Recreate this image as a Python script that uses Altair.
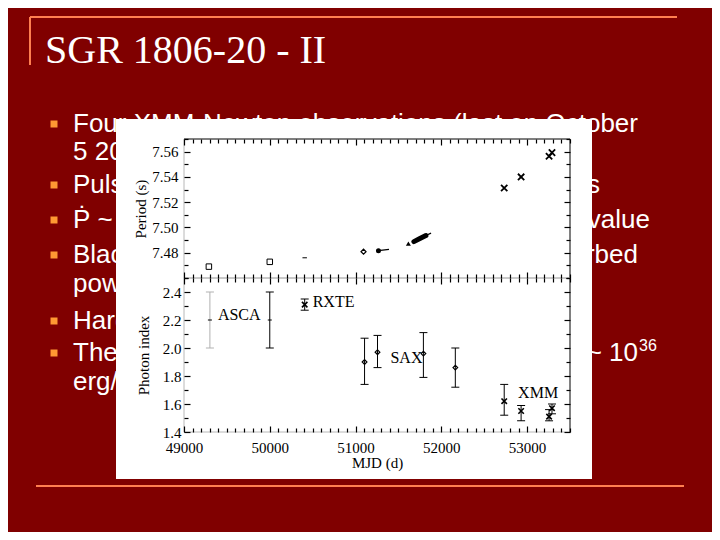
import altair as alt
import pandas as pd

# ---------------- slide text ----------------
TITLE = "SGR 1806-20 - II"
bullet_left = [
    "Four XMM-Newton observations (last on October",
    "5 2004)",
    "Pulse period increased",
    "Ṗ ~ 5.5×10⁻¹⁰ s/s",
    "Blackbody + power law",
    "power law",
    "Hardening of the spectrum",
    "The 2-10 keV luminosity",
    "erg/s",
]
bullet_right = ["", "", "to 7.56 s", "higher than the average value",
                "better than absorbed", "", "", "increased to ~ 10", ""]
bullet_has_mark = [True, False, True, True, True, False, True, True, False]
SUPERSCRIPT = "36"

# ---------------- figure data ----------------
# Period panel (MJD, spin period in s)
asca_p_mjd = [49290, 50000]
asca_p_val = [7.4690, 7.4728]
rxte96_p_mjd = [50407]
rxte96_p_val = [7.4760]
sax_p_mjd = [51093]
sax_p_val = [7.4808]
rxte99_p_mjd = [51267, 51390]
rxte99_p_val = [7.4816, 7.4826]
tri_p_mjd = [51616]
tri_p_val = [7.4872]
rxte00_p_mjd = [51680, 51750, 51820]
rxte00_p_val = [7.4888, 7.4912, 7.4936]
rxte00_tail_mjd = [51820, 51880]
rxte00_tail_val = [7.4936, 7.4955]
xmm_p_mjd = [52733, 52930, 53256, 53290]
xmm_p_val = [7.5312, 7.5400, 7.5563, 7.5592]

# Photon index panel
g_inst = ["ASCA", "ASCA", "RXTE", "SAX", "SAX", "SAX", "SAX", "XMM", "XMM", "XMM", "XMM"]
g_mjd = [49302, 50000, 50407, 51105, 51256, 51791, 52163, 52733, 52930, 53256, 53290]
g_val = [2.20, 2.20, 2.31, 1.90, 1.97, 1.96, 1.86, 1.62, 1.55, 1.51, 1.57]
g_lo = [2.00, 2.00, 2.27, 1.74, 1.86, 1.79, 1.72, 1.52, 1.48, 1.48, 1.53]
g_hi = [2.40, 2.40, 2.35, 2.07, 2.09, 2.11, 2.00, 1.74, 1.59, 1.56, 1.60]

lab_text = ["ASCA", "RXTE", "SAX", "XMM"]
lab_mjd = [49395, 50500, 51407, 52895]
lab_val = [2.20, 2.29, 1.89, 1.64]

X_MAJ = [49000, 50000, 51000, 52000, 53000]
X_MIN = [v for v in range(49100, 53501, 100) if v % 1000 != 0]
P_MAJ = [7.48, 7.50, 7.52, 7.54, 7.56]
P_MIN = [round(7.46 + 0.01 * i, 2) for i in range(12) if round(7.46 + 0.01 * i, 2) not in P_MAJ]
G_MAJ = [1.4, 1.6, 1.8, 2.0, 2.2, 2.4]
G_MIN = [1.5, 1.7, 1.9, 2.1, 2.3, 2.5]

# ---------------- layout / style ----------------
W, H = 704, 524
SERIF = "Liberation Serif"
SANS = "Liberation Sans"
BG = "#800000"
LINE = "#FF7F50"
BUL = "#FF9933"
GRAY = "#b8b8b8"
MAJ, MIN = 6, 4
XSHAPE = "M-1,-1L1,1M-1,1L1,-1"

XDOM = [49000, 53500]
XR = [176, 562]
PDOM = [7.46, 7.57]
PR = [270, 131]
GDOM = [1.4, 2.5]
GR = [424, 270]

dummy = pd.DataFrame({"d": [0]})
layers = []

# orange decorative lines
layers.append(alt.Chart(dummy).mark_rule(color=LINE, strokeWidth=2).encode(
    x=alt.value(22), x2=alt.value(669), y=alt.value(9)))
layers.append(alt.Chart(dummy).mark_rule(color=LINE, strokeWidth=2).encode(
    x=alt.value(22), y=alt.value(9), y2=alt.value(57)))
layers.append(alt.Chart(dummy).mark_rule(color=LINE, strokeWidth=2).encode(
    x=alt.value(28), x2=alt.value(676), y=alt.value(478)))

# title
layers.append(alt.Chart(pd.DataFrame({"t": [TITLE]})).mark_text(
    align="left", baseline="alphabetic", font=SERIF, fontSize=40, color="white"
).encode(text="t:N", x=alt.value(37), y=alt.value(55)))

# bullet text
baselines = [124, 152, 185, 220, 255, 284, 321, 353, 382]
right_ends = [0, 0, 592, 642, 630, 0, 0, 630, 0]
TX = 65
left_df = pd.DataFrame({"t": bullet_left, "x": [TX] * len(bullet_left), "y": baselines})
first_df = left_df.iloc[:1]
rest_df = left_df.iloc[1:]
right_df = pd.DataFrame({"t": bullet_right, "x": right_ends, "y": baselines})
right_df = right_df[right_df["t"] != ""]
mark_df = pd.DataFrame({"x": [46] * len(baselines), "y": [b - 8 for b in baselines],
                        "m": bullet_has_mark})
mark_df = mark_df[mark_df["m"]]

layers.append(alt.Chart(mark_df).mark_square(color=BUL, size=49, opacity=1).encode(
    x=alt.X("x:Q", scale=None, axis=None), y=alt.Y("y:Q", scale=None, axis=None)))
layers.append(alt.Chart(first_df).mark_text(
    align="left", baseline="alphabetic", font=SANS, fontSize=26, color="white"
).encode(text="t:N", x=alt.X("x:Q", scale=None, axis=None), y=alt.Y("y:Q", scale=None, axis=None)))
# lines whose middle lies behind the figure: only the part left of the figure is drawn
layers.append(alt.Chart(rest_df).mark_text(
    align="left", baseline="alphabetic", font=SANS, fontSize=26, color="white",
    limit=58, ellipsis="\u200b"
).encode(text="t:N", x=alt.X("x:Q", scale=None, axis=None), y=alt.Y("y:Q", scale=None, axis=None)))
layers.append(alt.Chart(right_df).mark_text(
    align="right", baseline="alphabetic", font=SANS, fontSize=26, color="white"
).encode(text="t:N", x=alt.X("x:Q", scale=None, axis=None), y=alt.Y("y:Q", scale=None, axis=None)))
layers.append(alt.Chart(pd.DataFrame({"t": [SUPERSCRIPT]})).mark_text(
    align="left", baseline="alphabetic", font=SANS, fontSize=16, color="white"
).encode(text="t:N", x=alt.value(631), y=alt.value(343)))

# white figure box
layers.append(alt.Chart(dummy).mark_rect(color="white").encode(
    x=alt.value(108), x2=alt.value(584), y=alt.value(111), y2=alt.value(471)))

AX = dict(domain=False, grid=False, zindex=1, tickColor="black", tickWidth=1.2,
          labelFont=SERIF, labelFontSize=15, labelColor="black",
          labelFlush=False, labelOverlap=False,
          titleFont=SERIF, titleFontSize=15, titleFontWeight="normal", titleColor="black")


def sx():
    return alt.Scale(domain=XDOM, range=XR, nice=False, zero=False)


def sy(dom, rng):
    return alt.Scale(domain=dom, range=rng, nice=False, zero=False)


def axis_x(orient, frame_y, size, values, labels=False, title=None):
    off = (frame_y - size - H) if orient == "bottom" else -(frame_y + size)
    kw = dict(AX, orient=orient, offset=off, tickSize=size, values=values,
              labels=labels, title=title)
    if labels:
        kw.update(format="d", labelPadding=8, titlePadding=0)
    return alt.Axis(**kw)


def axis_y(orient, frame_x, size, values, labels=False, fmt=".2f", title=None, lpad=3, tpad=3):
    off = -(frame_x + size) if orient == "left" else (frame_x - size - W)
    kw = dict(AX, orient=orient, offset=off, tickSize=size, values=values,
              labels=labels, title=title)
    if labels:
        kw.update(format=fmt, labelPadding=lpad, titlePadding=tpad)
    return alt.Axis(**kw)


def panel(dom, rng, ymaj, ymin, fmt, ytitle, lpad, tpad, xlabels, top_color):
    fr = pd.DataFrame({"x0": [XDOM[0]], "x1": [XDOM[1]], "y0": [dom[0]], "y1": [dom[1]]})
    yb, yt = rng
    xl, xr = XR
    out = []
    out.append(alt.Chart(fr).mark_rule(color=GRAY).encode(
        x=alt.X("x0:Q", scale=sx(), axis=axis_x("bottom", yb, MAJ, X_MAJ, labels=xlabels,
                                                  title="MJD (d)" if xlabels else None)),
        y=alt.Y("y0:Q", scale=sy(dom, rng), axis=axis_y("left", xl, MAJ, ymaj, labels=True, fmt=fmt,
                                                          title=ytitle, lpad=lpad, tpad=tpad)),
        y2="y1:Q"))
    out.append(alt.Chart(fr).mark_rule(color=GRAY).encode(
        x=alt.X("x0:Q", scale=sx(), axis=axis_x("bottom", yb, MIN, X_MIN)),
        x2="x1:Q",
        y=alt.Y("y0:Q", scale=sy(dom, rng), axis=axis_y("left", xl, MIN, ymin))))
    out.append(alt.Chart(fr).mark_rule(color=top_color).encode(
        x=alt.X("x0:Q", scale=sx(), axis=axis_x("top", yt, MAJ, X_MAJ)),
        x2="x1:Q",
        y=alt.Y("y1:Q", scale=sy(dom, rng), axis=axis_y("right", xr, MAJ, ymaj))))
    out.append(alt.Chart(fr).mark_rule(color="black").encode(
        x=alt.X("x1:Q", scale=sx(), axis=axis_x("top", yt, MIN, X_MIN)),
        y=alt.Y("y0:Q", scale=sy(dom, rng), axis=axis_y("right", xr, MIN, ymin)),
        y2="y1:Q"))
    return out


def xy(dom, rng, yfield="val"):
    return dict(x=alt.X("mjd:Q", scale=sx(), axis=None),
                y=alt.Y(f"{yfield}:Q", scale=sy(dom, rng), axis=None))


def df(m, v):
    return pd.DataFrame({"mjd": m, "val": v})


# ---- period panel ----
layers += panel(PDOM, PR, P_MAJ, P_MIN, ".2f", "Period (s)", 6, 3, False, "black")
PP = (PDOM, PR)
layers.append(alt.Chart(df(asca_p_mjd, asca_p_val)).mark_point(
    shape="square", filled=False, color="black", size=30, strokeWidth=1, opacity=1).encode(**xy(*PP)))
layers.append(alt.Chart(df(rxte96_p_mjd, rxte96_p_val)).mark_point(
    shape="stroke", filled=False, color="black", size=20, strokeWidth=1, opacity=1).encode(**xy(*PP)))
layers.append(alt.Chart(df(sax_p_mjd, sax_p_val)).mark_point(
    shape="diamond", filled=False, color="black", size=25, strokeWidth=1.2, opacity=1).encode(**xy(*PP)))
layers.append(alt.Chart(df(rxte99_p_mjd, rxte99_p_val)).mark_line(
    color="black", strokeWidth=1.2).encode(**xy(*PP)))
layers.append(alt.Chart(df(rxte99_p_mjd[:1], rxte99_p_val[:1])).mark_point(
    shape="circle", filled=True, color="black", size=25, opacity=1).encode(**xy(*PP)))
layers.append(alt.Chart(df(tri_p_mjd, tri_p_val)).mark_point(
    shape="triangle-up", filled=True, color="black", size=25, opacity=1).encode(**xy(*PP)))
layers.append(alt.Chart(df(rxte00_p_mjd, rxte00_p_val)).mark_line(
    color="black", strokeWidth=5, strokeCap="round").encode(**xy(*PP)))
layers.append(alt.Chart(df(rxte00_tail_mjd, rxte00_tail_val)).mark_line(
    color="black", strokeWidth=1.2).encode(**xy(*PP)))
layers.append(alt.Chart(df(xmm_p_mjd, xmm_p_val)).mark_point(
    shape=XSHAPE, filled=False, color="black", size=40, strokeWidth=1.8, opacity=1
).encode(**xy(*PP)))

# ---- photon index panel ----
layers += panel(GDOM, GR, G_MAJ, G_MIN, ".1f", "Photon index", 3, 11, True, GRAY)
GG = (GDOM, GR)
gdf = pd.DataFrame({"inst": g_inst, "mjd": g_mjd, "val": g_val, "lo": g_lo, "hi": g_hi})
faint = gdf.iloc[:1]
main = gdf.iloc[1:]
caps = pd.concat([gdf[["inst", "mjd"]].assign(c=gdf["lo"]), gdf[["inst", "mjd"]].assign(c=gdf["hi"])])
caps_faint = caps[caps["mjd"] == g_mjd[0]]
caps_main = caps[caps["mjd"] != g_mjd[0]]

for sub, subcaps, col in [(faint, caps_faint, "#b0b0b0"), (main, caps_main, "black")]:
    layers.append(alt.Chart(sub).mark_rule(color=col, strokeWidth=1).encode(
        y2="hi:Q", **xy(*GG, yfield="lo")))
    layers.append(alt.Chart(subcaps).mark_tick(orient="horizontal", size=8, thickness=1, color=col, opacity=1).encode(
        **xy(*GG, yfield="c")))

layers.append(alt.Chart(gdf[gdf["inst"] == "ASCA"]).mark_point(
    shape="stroke", filled=False, color="black", size=16, strokeWidth=1, opacity=1).encode(**xy(*GG)))
layers.append(alt.Chart(gdf[gdf["inst"] == "SAX"]).mark_point(
    shape="diamond", filled=False, color="black", size=22, strokeWidth=1.2, opacity=1).encode(**xy(*GG)))
layers.append(alt.Chart(gdf[gdf["inst"].isin(["XMM", "RXTE"])]).mark_point(
    shape=XSHAPE, filled=False, color="black", size=30, strokeWidth=1.6, opacity=1
).encode(**xy(*GG)))

lab_df = pd.DataFrame({"t": lab_text, "mjd": lab_mjd, "val": lab_val})
layers.append(alt.Chart(lab_df).mark_text(
    align="left", baseline="alphabetic", font=SERIF, fontSize=16, color="black"
).encode(text="t:N", **xy(*GG)))

chart = alt.layer(*layers).resolve_scale(
    x="independent", y="independent"
).resolve_axis(
    x="independent", y="independent"
).properties(
    width=W, height=H, background=BG, padding=0
).configure_view(stroke=None)

chart.save("out.html", embed_options={"renderer": "svg", "actions": False})
